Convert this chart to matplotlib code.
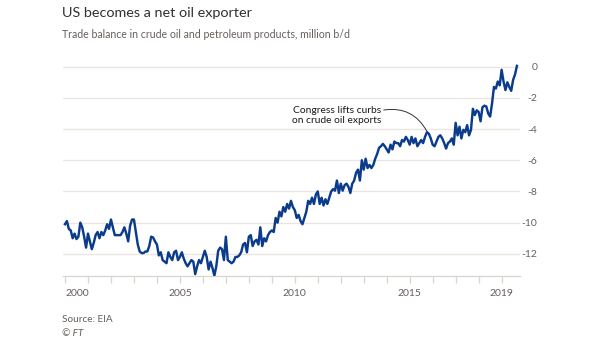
import numpy as np
import pandas as pd
import matplotlib
matplotlib.use("Agg")
import matplotlib.pyplot as plt

# ---- data (million b/d, monthly, Jan 2000 - Sep 2019) ----
v2000 = [-10.1, -9.9, -10.4, -10.5, -11.0, -10.7, -11.05, -10.9, -10.0, -10.3, -10.9, -11.6]
v2001 = [-10.7, -11.2, -11.7, -11.3, -10.8, -10.6, -11.0, -10.6, -10.8, -10.5, -10.1, -10.4]
v2002 = [-9.8, -10.3, -10.8, -10.8, -10.8, -10.8, -10.6, -10.3, -10.7, -11.2, -10.2, -9.8]
v2003 = [-9.8, -10.6, -11.4, -11.85, -11.95, -11.95, -11.85, -11.85, -11.5, -10.9, -10.95, -11.2]
v2004 = [-11.4, -12.1, -11.9, -12.4, -12.5, -12.6, -11.9, -12.2, -12.4, -11.9, -11.8, -12.4]
v2005 = [-12.2, -11.9, -12.3, -12.6, -12.8, -12.6, -12.4, -12.5, -13.3, -12.8, -12.4, -12.6]
v2006 = [-12.2, -11.8, -12.2, -13.0, -12.5, -12.9, -13.4, -12.8, -11.8, -11.6, -11.7, -12.4]
v2007 = [-10.9, -12.4, -12.5, -12.6, -12.5, -12.2, -12.2, -12.1, -11.9, -11.4, -11.3, -11.9]
v2008 = [-10.9, -10.8, -11.5, -11.2, -11.1, -11.4, -10.3, -11.5, -11.0, -11.2, -10.8, -10.6]
v2009 = [-10.5, -10.6, -9.7, -10.0, -9.3, -9.6, -9.0, -9.3, -8.8, -9.1, -8.6, -9.0]
v2010 = [-9.2, -9.7, -9.5, -9.9, -10.1, -9.7, -9.3, -8.6, -8.8, -8.4, -8.8, -8.2]
v2011 = [-8.0, -8.8, -8.4, -8.9, -8.5, -8.8, -8.4, -8.0, -7.85, -7.95, -7.3, -8.1]
v2012 = [-7.5, -7.95, -7.6, -7.5, -7.7, -8.1, -7.5, -7.3, -6.8, -6.6, -7.3, -6.0]
v2013 = [-6.6, -5.9, -6.5, -6.3, -6.5, -6.3, -5.9, -5.6, -5.2, -5.1, -4.95, -5.1]
v2014 = [-5.3, -5.5, -5.0, -5.3, -4.8, -4.9, -4.9, -5.1, -4.7, -4.8, -4.5, -4.7]
v2015 = [-5.0, -4.5, -4.9, -4.6, -5.1, -4.9, -4.7, -4.9, -4.5, -4.2, -4.3, -4.6]
v2016 = [-5.0, -5.1, -4.8, -4.5, -4.4, -4.6, -4.9, -5.25, -4.9, -4.8, -4.6, -5.0]
v2017 = [-3.6, -4.4, -3.85, -4.6, -4.05, -4.2, -3.75, -4.4, -4.05, -2.7, -3.1, -2.8]
v2018 = [-2.9, -3.5, -2.6, -2.5, -2.55, -3.0, -3.2, -2.35, -1.3, -1.4, -0.95, -1.2]
v2019 = [-0.2, -0.95, -1.5, -1.0, -1.3, -1.55, -0.85, -0.5, 0.05]

start_month = "2000-01-01"
yticks = [0, -2, -4, -6, -8, -10, -12]
xtick_years = list(range(2000, 2020))
xlabel_years = [2000, 2005, 2010, 2015, 2019]

title = "US becomes a net oil exporter"
subtitle = "Trade balance in crude oil and petroleum products, million b/d"
annotation = "Congress lifts curbs\non crude oil exports"
annot_point = (2015.75, -4.15)
source = "Source: EIA"
credit = "\u00a9 FT"

values = (v2000 + v2001 + v2002 + v2003 + v2004 + v2005 + v2006 + v2007 + v2008 + v2009
          + v2010 + v2011 + v2012 + v2013 + v2014 + v2015 + v2016 + v2017 + v2018 + v2019)
dates = pd.date_range(start_month, periods=len(values), freq="MS")
x = dates.year + (dates.month - 1) / 12.0

plt.rcParams["font.family"] = ["Lato", "DejaVu Sans"]

W, H = 605, 341
fig = plt.figure(figsize=(W / 100, H / 100), dpi=100)
fig.patch.set_facecolor("white")
ax = fig.add_axes([63 / W, 1 - 276 / H, (520 - 63) / W, (276 - 62) / H])

ax.plot(x, values, color="#0b3c8c", lw=1.75, solid_joinstyle="round", zorder=3)
ax.set_xlim(1999.913, 2019.80)
ax.set_ylim(-13.42, 0.3)

ax.set_yticks(yticks)
ax.set_yticklabels([str(v) for v in yticks])
ax.yaxis.tick_right()
ax.grid(axis="y", color="#ebe5df", lw=0.9, zorder=0)
for s in ["top", "left", "right"]:
    ax.spines[s].set_visible(False)
ax.spines["bottom"].set_color("#d9d4cf")
ax.spines["bottom"].set_linewidth(0.9)
ax.tick_params(axis="y", length=0, pad=12.5, labelsize=7.5, labelcolor="#66605c")
for lab in ax.get_yticklabels():
    lab.set_horizontalalignment("right")

ax.set_xticks(xtick_years)
ax.set_xticklabels([str(y) if y in xlabel_years else "" for y in xtick_years])
ax.tick_params(axis="x", length=5, width=0.9, color="#d9d4cf", pad=4,
               labelsize=7.5, labelcolor="#66605c")
ax.get_xticklabels()[0].set_horizontalalignment("left")

ax.text(2011.83, -3.12, annotation, ha="center", va="center", fontsize=7.4,
        color="#1a1a1a", linespacing=1.15, zorder=4)
ax.annotate("", xy=annot_point, xytext=(2013.87, -2.78),
            arrowprops=dict(arrowstyle="-", color="#333333", lw=0.7,
                            connectionstyle="arc3,rad=-0.35", shrinkA=0, shrinkB=0),
            zorder=4)

fig.text(62 / W, 1 - 16.8 / H, title, fontsize=10.4, color="#33302e", va="baseline", ha="left")
fig.text(62 / W, 1 - 38.5 / H, subtitle, fontsize=7.6, color="#66605c", va="baseline", ha="left")
fig.text(62 / W, 1 - 321.5 / H, source, fontsize=7.2, color="#66605c", va="baseline", ha="left")
fig.text(62 / W, 1 - 336.5 / H, credit, fontsize=7.2, color="#66605c", va="baseline", ha="left",
         style="italic")

fig.savefig("out.png", dpi=100, facecolor="white")
